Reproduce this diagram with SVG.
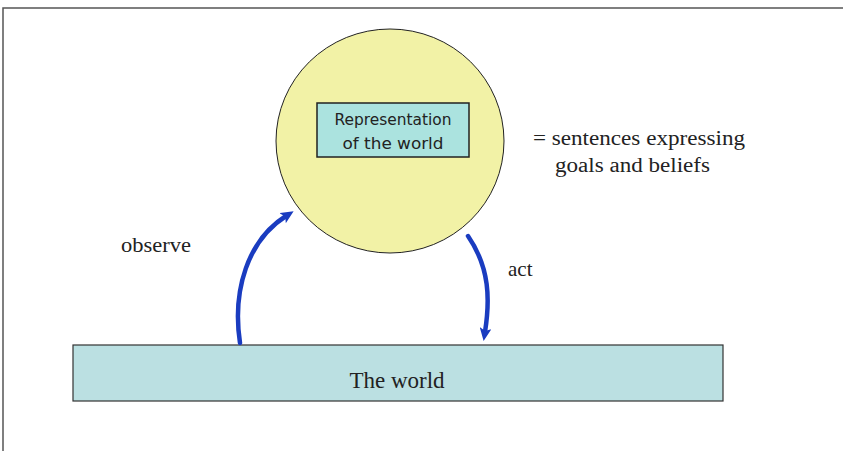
<svg xmlns="http://www.w3.org/2000/svg" width="843" height="451" viewBox="0 0 843 451">
<style>
.serif{font-family:"Liberation Serif","DejaVu Serif",serif;fill:#222}
.sans{font-family:"DejaVu Sans","Liberation Sans",sans-serif;fill:#222}
.conn{fill:none;stroke:#1a3cc0;stroke-width:4.5;stroke-linecap:round}
</style>
<defs>
<marker id="ah" markerWidth="13" markerHeight="12" refX="4" refY="6" orient="auto" markerUnits="userSpaceOnUse">
<path d="M0,0 L13,6 L0,12 L3,6 Z" fill="#1a3cc0"/>
</marker>
</defs>
<rect x="0" y="0" width="843" height="451" fill="#fff"/>
<path d="M3,451 L3,8 L843,8" fill="none" stroke="#555" stroke-width="1.5"/>
<g id="mind">
<ellipse cx="390" cy="141" rx="114" ry="112" fill="#f2f2a6" stroke="#222" stroke-width="1"/>
</g>
<g id="representation">
<rect x="317" y="103" width="152" height="54" fill="#abe3df" stroke="#222" stroke-width="1.5"/>
<text class="sans" x="393" y="125" font-size="15" text-anchor="middle" textLength="117" lengthAdjust="spacingAndGlyphs">Representation</text>
<text class="sans" x="393" y="149" font-size="16" text-anchor="middle" textLength="101" lengthAdjust="spacingAndGlyphs">of the world</text>
</g>
<g id="world">
<rect x="73" y="345" width="650" height="56" fill="#bbe0e2" stroke="#333" stroke-width="1.2"/>
<text class="serif" x="397" y="388" font-size="23" text-anchor="middle">The world</text>
</g>
<g id="note">
<text class="serif" x="533" y="145" font-size="20" textLength="212" lengthAdjust="spacingAndGlyphs">= sentences expressing</text>
<text class="serif" x="555" y="172" font-size="20" textLength="155" lengthAdjust="spacingAndGlyphs">goals and beliefs</text>
</g>
<g id="connectors">
<path class="conn" d="M240,343 C232,290 248,240 286,216" marker-end="url(#ah)"/>
<path class="conn" d="M468,236 C490,268 490,300 485,332" marker-end="url(#ah)"/>
<text class="serif" x="121" y="252" font-size="21" textLength="70" lengthAdjust="spacingAndGlyphs">observe</text>
<text class="serif" x="508" y="276" font-size="21">act</text>
</g>
</svg>
